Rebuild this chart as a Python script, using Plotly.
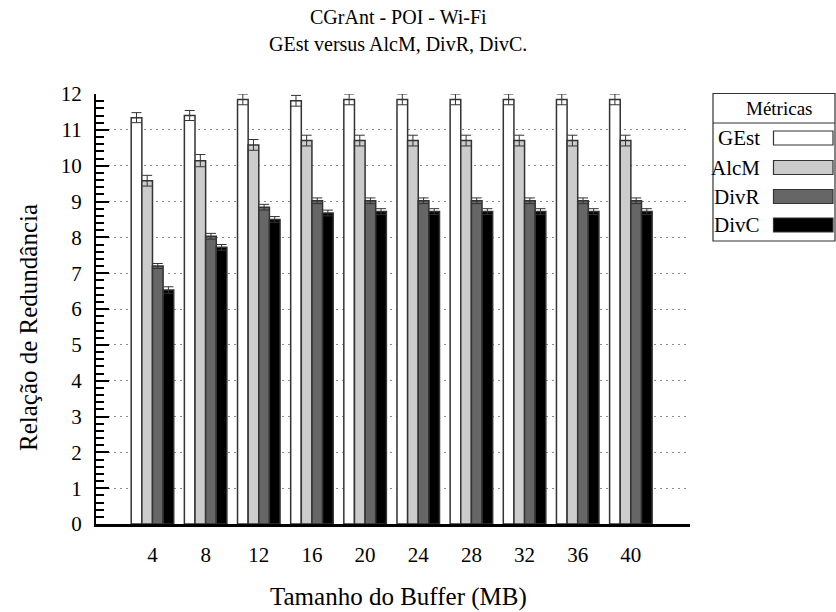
import plotly.graph_objects as go

buffer_sizes = [4, 8, 12, 16, 20, 24, 28, 32, 36, 40]
series_names = ["GEst", "AlcM", "DivR", "DivC"]
gest = [11.34, 11.40, 11.85, 11.81, 11.85, 11.85, 11.85, 11.85, 11.85, 11.85]
alcm = [9.58, 10.14, 10.58, 10.70, 10.70, 10.70, 10.70, 10.70, 10.70, 10.70]
divr = [7.20, 8.03, 8.84, 9.02, 9.02, 9.02, 9.02, 9.02, 9.02, 9.02]
divc = [6.53, 7.72, 8.50, 8.68, 8.72, 8.72, 8.72, 8.72, 8.72, 8.72]
gest_err = [0.14, 0.14, 0.15, 0.15, 0.15, 0.15, 0.15, 0.15, 0.15, 0.15]
alcm_err = [0.15, 0.17, 0.15, 0.15, 0.15, 0.15, 0.15, 0.15, 0.15, 0.15]
divr_err = [0.07, 0.08, 0.08, 0.08, 0.08, 0.08, 0.08, 0.08, 0.08, 0.08]
divc_err = [0.09, 0.08, 0.08, 0.08, 0.08, 0.08, 0.08, 0.08, 0.08, 0.08]
y_ticks = list(range(0, 13))

values = [gest, alcm, divr, divc]
errors = [gest_err, alcm_err, divr_err, divc_err]
colors = ["#ffffff", "#cccccc", "#666666", "#000000"]
FONT = "Liberation Serif, Times New Roman, serif"

fig = go.Figure()
for name, vals, errs, col in zip(series_names, values, errors, colors):
    fig.add_trace(go.Bar(
        x=buffer_sizes, y=vals, name=name, showlegend=False,
        marker=dict(color=col, line=dict(color="#333333", width=1.5)),
        error_y=dict(type="data", array=errs, visible=True,
                     color="#333333", thickness=1, width=5),
    ))

W, H = 836, 612
L, R, T, B = 96, 690, 94, 524
fig.update_layout(
    width=W, height=H,
    margin=dict(l=L, r=W - R, t=T, b=H - B, pad=0),
    paper_bgcolor="white", plot_bgcolor="white",
    barmode="group", bargap=0.2, bargroupgap=0,
    font=dict(family=FONT, size=21, color="black"),
    showlegend=False,
)
fig.update_xaxes(
    range=[-0.25, 44.45], tickvals=buffer_sizes,
    ticktext=[str(v) for v in buffer_sizes],
    showgrid=False, zeroline=False, showline=True,
    linecolor="black", linewidth=2.5, ticks="",
    ticklabelstandoff=10, tickfont=dict(size=21, family=FONT),
)
fig.update_yaxes(
    range=[0, 12], tickvals=y_ticks,
    showgrid=True, gridcolor="#8c8c8c", griddash="1.5px,4.5px", gridwidth=1.2,
    zeroline=False, showline=True, linecolor="black", linewidth=2,
    ticks="inside", ticklen=13, tickwidth=2, tickcolor="black",
    minor=dict(dtick=0.2, ticks="inside", ticklen=8, tickwidth=2,
               tickcolor="black", showgrid=False),
    ticklabelstandoff=8, tickfont=dict(size=21, family=FONT),
)

def px_x(p):
    return (p - L) / (R - L)

def px_y(p):
    return (B - p) / (B - T)

ann = []
ann.append(dict(text="CGrAnt - POI - Wi-Fi", x=px_x(398), y=px_y(17), size=20))
ann.append(dict(text="GEst versus AlcM, DivR, DivC.", x=px_x(398), y=px_y(44), size=20))
ann.append(dict(text="Tamanho do Buffer (MB)", x=px_x(398), y=px_y(597), size=25))
ann.append(dict(text="Relação de Redundância", x=px_x(28), y=px_y(328), size=25, angle=-90))
for a in ann:
    fig.add_annotation(
        text=a["text"], x=a["x"], y=a["y"], xref="paper", yref="paper",
        xanchor="center", yanchor="middle", showarrow=False,
        textangle=a.get("angle", 0),
        font=dict(family=FONT, size=a.get("size", 21), color="black"),
    )

# Manual legend box (text on left, swatch on right)
fig.add_shape(type="rect", xref="paper", yref="paper",
              x0=px_x(713), x1=px_x(835), y0=px_y(93.5), y1=px_y(241),
              line=dict(color="#333333", width=1.2), fillcolor="rgba(0,0,0,0)")
fig.add_shape(type="line", xref="paper", yref="paper",
              x0=px_x(713), x1=px_x(835), y0=px_y(123), y1=px_y(123),
              line=dict(color="#333333", width=1.2))
fig.add_annotation(text="Métricas", x=px_x(779), y=px_y(109), xref="paper", yref="paper",
                   xanchor="center", yanchor="middle", showarrow=False,
                   font=dict(family=FONT, size=19, color="black"))
centers = [138, 167.5, 196.5, 225]
for name, col, cy in zip(series_names, colors, centers):
    fig.add_annotation(text=name, x=px_x(762), y=px_y(cy), xref="paper", yref="paper",
                       xanchor="right", yanchor="middle", showarrow=False,
                       font=dict(family=FONT, size=21, color="black"))
    fig.add_shape(type="rect", xref="paper", yref="paper",
                  x0=px_x(773.5), x1=px_x(833), y0=px_y(cy - 7), y1=px_y(cy + 7),
                  fillcolor=col, line=dict(color="#333333", width=1.2))

fig.write_html("out.html")
